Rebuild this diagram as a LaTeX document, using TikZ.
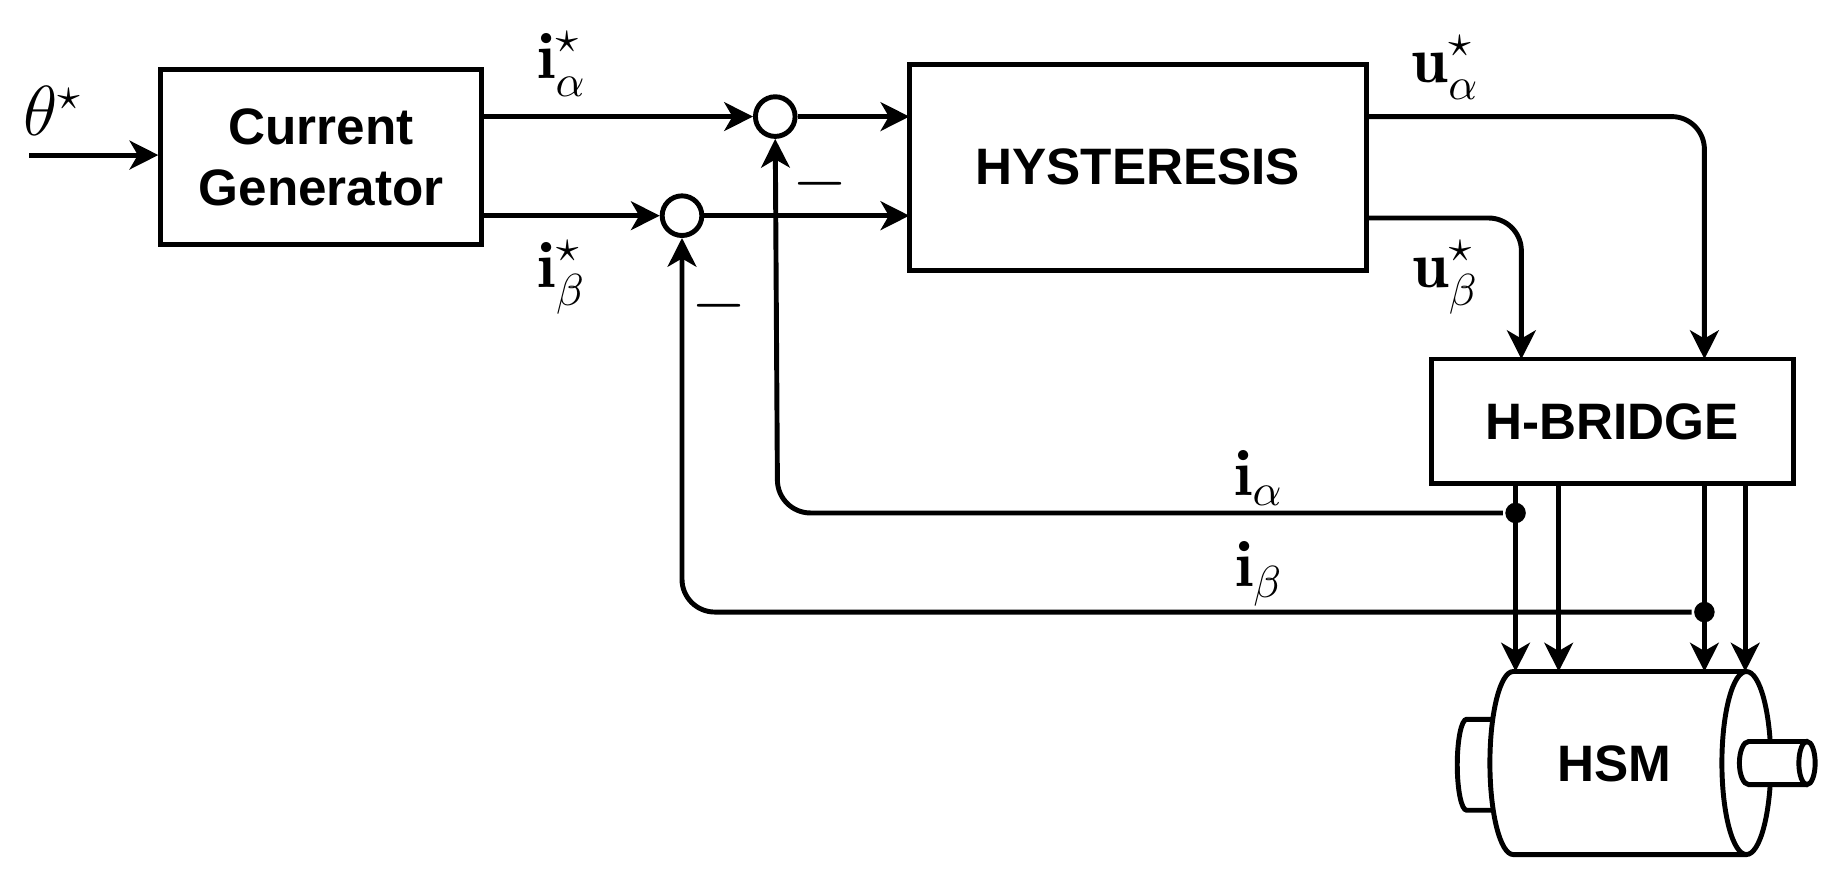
\documentclass[tikz,border=0pt]{standalone}
\usepackage{fontspec}
\setsansfont{Liberation Sans}
\usetikzlibrary{arrows.meta}
\begin{document}
\begin{tikzpicture}[x=0.01cm,y=-0.01cm,line width=1.2pt,
  blk/.style={draw,rectangle,inner sep=0pt,font=\sffamily\bfseries\fontsize{12.5}{15}\selectfont,align=center},
  sum/.style={draw,circle,minimum size=0.34cm,inner sep=0pt},
  lab/.style={font=\fontsize{16}{18}\selectfont},
  arr/.style={-{Stealth[length=7pt,width=7pt,inset=2pt]}},
  dot/.style={circle,fill,inner sep=0pt,minimum size=5pt}]
\useasboundingbox (0,0) rectangle (1568,748);
\node[blk,minimum width=2.75cm,minimum height=1.5cm] (cg) at (275.5,135) {Current\\Generator};
\node[blk,minimum width=3.92cm,minimum height=1.77cm] (hy) at (976,143.5) {HYSTERESIS};
\node[blk,minimum width=3.1cm,minimum height=1.07cm] (hb) at (1383,361.5) {H-BRIDGE};
\node[sum] (s1) at (665,100) {};
\node[sum] (s2) at (585,185) {};
\coordinate (in) at (25,133);
\node[lab] (th) at (45,95) {$\theta^{\star}$};
\draw[arr] (in) -- (cg.west|-in);
\coordinate (c1) at (413,100);
\coordinate (c2) at (413,185);
\draw[arr] (c1) -- (s1.west);
\draw[arr] (c2) -- (s2.west);
\node[lab] (la) at (482,55) {$\mathbf{i}^{\star}_{\alpha}$};
\node[lab] (lb) at (482,238) {$\mathbf{i}^{\star}_{\beta}$};
\draw[arr] (s1.east) -- (780,100);
\draw[arr] (s2.east) -- (780,185);
\node[lab] (m1) at (703,158) {$-$};
\node[lab] (m2) at (617,262) {$-$};
\draw[arr,rounded corners=8pt] (1172,100) -- (1462,100) -- (1462,308);
\draw[arr,rounded corners=8pt] (1172,187) -- (1305,187) -- (1305,308);
\node[lab] (ua) at (1240,58) {$\mathbf{u}^{\star}_{\alpha}$};
\node[lab] (ub) at (1240,238) {$\mathbf{u}^{\star}_{\beta}$};
% motor outputs
\foreach \x in {1300,1337,1462,1497} \draw[arr] (\x,415) -- (\x,576);
\node[dot] (d1) at (1300,440) {};
\node[dot] (d2) at (1462,525) {};
\draw[arr,rounded corners=8pt] (d1) -- (667,440) -- (s1.south);
\draw[arr,rounded corners=8pt] (d2) -- (585,525) -- (s2.south);
\node[lab] (ia) at (1080,410) {$\mathbf{i}_{\alpha}$};
\node[lab] (ib) at (1080,492) {$\mathbf{i}_{\beta}$};
% motor
\draw (1280,617) -- (1258,617) arc[start angle=90,end angle=270,x radius=8,y radius=-39] -- (1280,695);
\draw (1498,576) -- (1298,576) arc[start angle=90,end angle=270,x radius=20,y radius=-78.5] -- (1498,733);
\draw (1498,654.5) ellipse[x radius=21,y radius=78.5];
\draw[fill=white] (1550,636) -- (1500,636) arc[start angle=90,end angle=270,x radius=8,y radius=-18.5] -- (1550,673);
\draw (1550,654.5) ellipse[x radius=7,y radius=18.5];
\node[font=\sffamily\bfseries\fontsize{12.5}{15}\selectfont] (hsm) at (1385,655) {HSM};
\end{tikzpicture}
\end{document}
